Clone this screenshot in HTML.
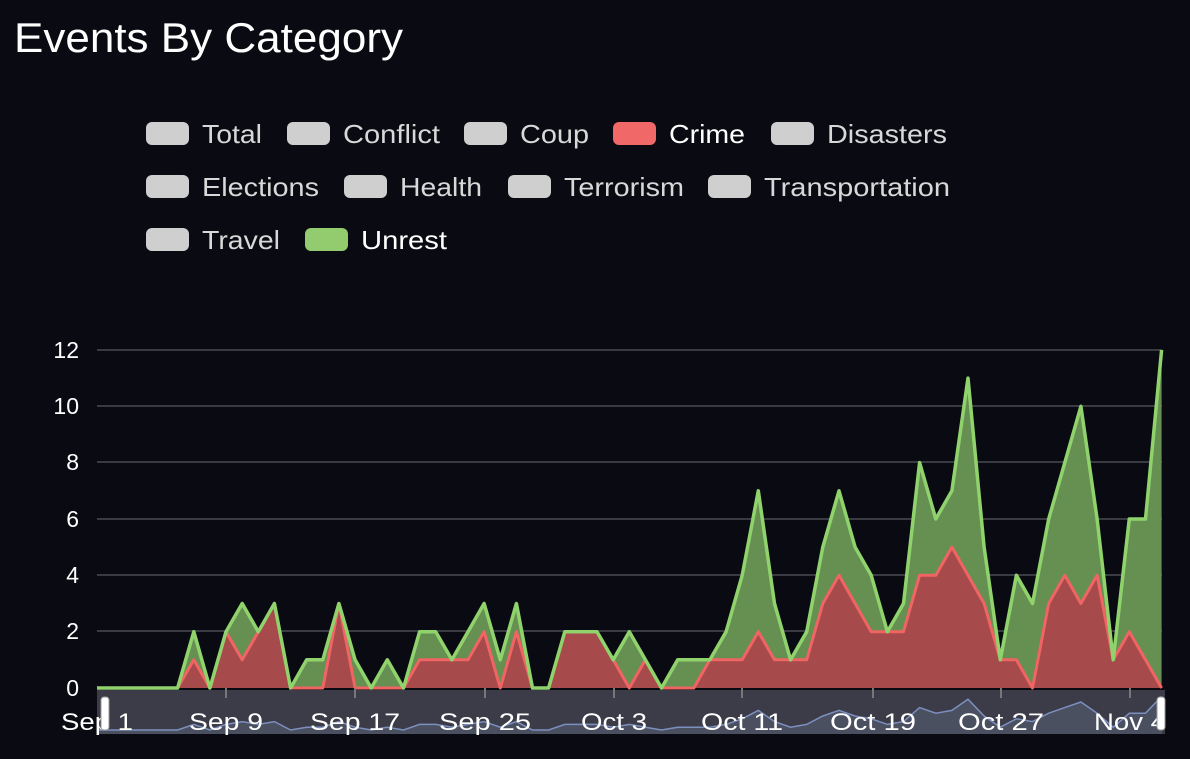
<!DOCTYPE html>
<html><head><style>
body{margin:0;background:#090a12;width:1190px;height:754px;overflow:hidden;font-family:"Liberation Sans",sans-serif}
</style></head><body>
<svg width="1190" height="754" xmlns="http://www.w3.org/2000/svg" font-family="Liberation Sans, sans-serif">
<rect width="1190" height="754" fill="#090a12"/>
<text x="14" y="52" font-size="42" fill="#fff" textLength="389" lengthAdjust="spacingAndGlyphs">Events By Category</text>
<g font-size="26" fill="#d8d8d8">
<rect x="146" y="122" width="43" height="23" rx="6" fill="#cfcfcf"/><text x="202" y="143" textLength="60" lengthAdjust="spacingAndGlyphs">Total</text>
<rect x="287" y="122" width="43" height="23" rx="6" fill="#cfcfcf"/><text x="343" y="143" textLength="97" lengthAdjust="spacingAndGlyphs">Conflict</text>
<rect x="464" y="122" width="43" height="23" rx="6" fill="#cfcfcf"/><text x="520" y="143" textLength="69" lengthAdjust="spacingAndGlyphs">Coup</text>
<rect x="613" y="122" width="43" height="23" rx="6" fill="#f06868"/><text x="669" y="143" fill="#fff" textLength="76" lengthAdjust="spacingAndGlyphs">Crime</text>
<rect x="771" y="122" width="43" height="23" rx="6" fill="#cfcfcf"/><text x="827" y="143" textLength="120" lengthAdjust="spacingAndGlyphs">Disasters</text>
<rect x="146" y="175" width="43" height="23" rx="6" fill="#cfcfcf"/><text x="202" y="196" textLength="117" lengthAdjust="spacingAndGlyphs">Elections</text>
<rect x="344" y="175" width="43" height="23" rx="6" fill="#cfcfcf"/><text x="400" y="196" textLength="82" lengthAdjust="spacingAndGlyphs">Health</text>
<rect x="508" y="175" width="43" height="23" rx="6" fill="#cfcfcf"/><text x="564" y="196" textLength="120" lengthAdjust="spacingAndGlyphs">Terrorism</text>
<rect x="708" y="175" width="43" height="23" rx="6" fill="#cfcfcf"/><text x="764" y="196" textLength="186" lengthAdjust="spacingAndGlyphs">Transportation</text>
<rect x="146" y="228" width="43" height="23" rx="6" fill="#cfcfcf"/><text x="202" y="249" textLength="78" lengthAdjust="spacingAndGlyphs">Travel</text>
<rect x="305" y="228" width="43" height="23" rx="6" fill="#92cc6f"/><text x="361" y="249" fill="#fff" textLength="86" lengthAdjust="spacingAndGlyphs">Unrest</text>
</g>
<g stroke="#3a3b42" stroke-width="2">
<line x1="97" x2="1162" y1="350" y2="350"/><line x1="97" x2="1162" y1="406" y2="406"/><line x1="97" x2="1162" y1="462" y2="462"/><line x1="97" x2="1162" y1="519" y2="519"/><line x1="97" x2="1162" y1="575" y2="575"/><line x1="97" x2="1162" y1="631" y2="631"/>
</g>
<g font-size="23" fill="#fff" text-anchor="end">
<text x="79" y="358">12</text><text x="79" y="414">10</text><text x="79" y="470">8</text><text x="79" y="527">6</text><text x="79" y="583">4</text><text x="79" y="639">2</text><text x="79" y="696">0</text>
</g>
<g id="chart"></g>
<rect x="97" y="690" width="1068" height="44" fill="#3b3c47"/>
<g id="nav"></g>
<g stroke="#777" stroke-width="2"><line x1="226" x2="226" y1="688" y2="698"/><line x1="355" x2="355" y1="688" y2="698"/><line x1="485" x2="485" y1="688" y2="698"/><line x1="614" x2="614" y1="688" y2="698"/><line x1="742" x2="742" y1="688" y2="698"/><line x1="873" x2="873" y1="688" y2="698"/><line x1="1001" x2="1001" y1="688" y2="698"/><line x1="1130" x2="1130" y1="688" y2="698"/></g>
<g font-size="24" fill="#fff" text-anchor="middle">
<text x="97" y="730" textLength="72" lengthAdjust="spacingAndGlyphs">Sep 1</text><text x="226" y="730" textLength="74" lengthAdjust="spacingAndGlyphs">Sep 9</text><text x="355" y="730" textLength="90" lengthAdjust="spacingAndGlyphs">Sep 17</text><text x="485" y="730" textLength="92" lengthAdjust="spacingAndGlyphs">Sep 25</text><text x="614" y="730" textLength="66" lengthAdjust="spacingAndGlyphs">Oct 3</text><text x="742" y="730" textLength="82" lengthAdjust="spacingAndGlyphs">Oct 11</text><text x="873" y="730" textLength="86" lengthAdjust="spacingAndGlyphs">Oct 19</text><text x="1001" y="730" textLength="86" lengthAdjust="spacingAndGlyphs">Oct 27</text><text x="1130" y="730" textLength="72" lengthAdjust="spacingAndGlyphs">Nov 4</text>
</g>
<rect x="101" y="697" width="8" height="33" rx="3" fill="#fff" stroke="#999"/>
<rect x="1157" y="697" width="8" height="33" rx="3" fill="#fff" stroke="#999"/>
</svg>
<script>
var T=[0,0,0,0,0,0,2,0,2,3,2,3,0,1,1,3,1,0,1,0,2,2,1,2,3,1,3,0,0,2,2,2,1,2,1,0,1,1,1,2,4,7,3,1,2,5,7,5,4,2,3,8,6,7,11,5,1,4,3,6,8,10,6,1,6,6,12];
var R=[0,0,0,0,0,0,1,0,2,1,2,3,0,0,0,3,0,0,0,0,1,1,1,1,2,0,2,0,0,2,2,2,1,0,1,0,0,0,1,1,1,2,1,1,1,3,4,3,2,2,2,4,4,5,4,3,1,1,0,3,4,3,4,1,2,1,0];
function X(i){return 97+16.13*i}function Y(v){return 688-28.17*v}
function pts(a){return a.map(function(v,i){return X(i).toFixed(1)+","+Y(v).toFixed(1)}).join(" ")}
function area(a){return pts(a)+" "+X(a.length-1)+",688 97,688"}
var ns="http://www.w3.org/2000/svg",g=document.getElementById("chart");
function add(p,attrs){var e=document.createElementNS(ns,p);for(var k in attrs)e.setAttribute(k,attrs[k]);g.appendChild(e)}
add("polygon",{points:area(T),fill:"#668f52"});
add("polygon",{points:area(R),fill:"#a64a4b"});
add("polyline",{points:pts(R),fill:"none",stroke:"#f06464","stroke-width":3,"stroke-linejoin":"round"});
add("polyline",{points:pts(T),fill:"none",stroke:"#90d36c","stroke-width":3.5,"stroke-linejoin":"round"});
var n=document.getElementById("nav");
var np=T.map(function(v,i){return X(i).toFixed(1)+","+(730-v*2.8).toFixed(1)}).join(" ");
var e=document.createElementNS(ns,"polygon");e.setAttribute("points",np+" 1162,734 97,734");e.setAttribute("fill","#4a5060");n.appendChild(e);
e=document.createElementNS(ns,"polyline");e.setAttribute("points",np);e.setAttribute("fill","none");e.setAttribute("stroke","#7d8fbf");e.setAttribute("stroke-width","1.5");n.appendChild(e);
</script>
</body></html>
